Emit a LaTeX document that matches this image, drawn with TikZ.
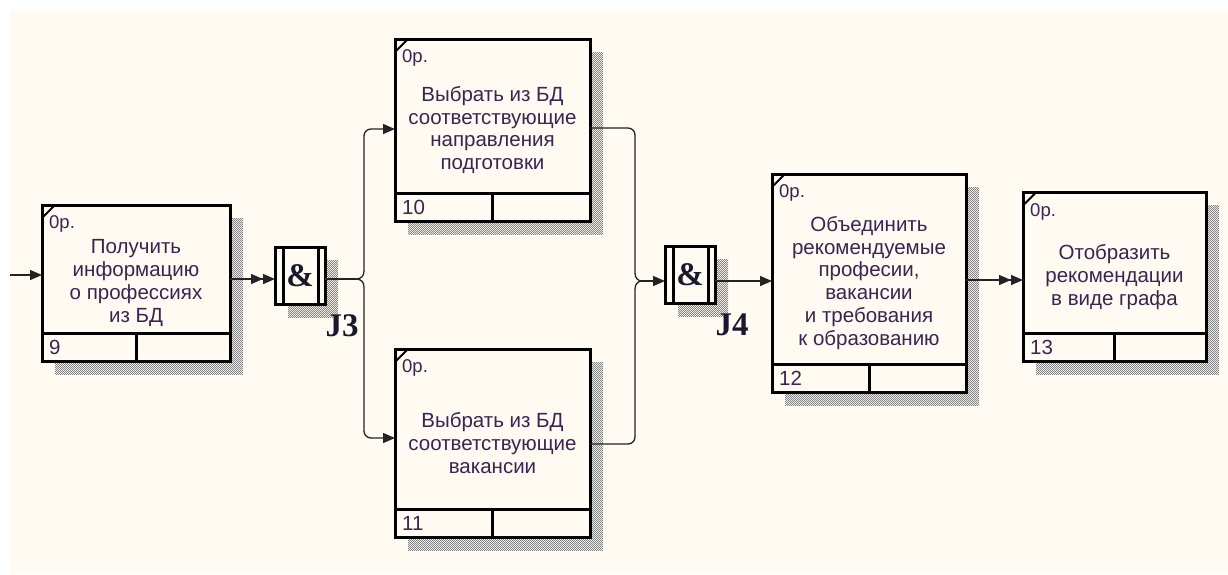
\documentclass[tikz,border=0pt]{standalone}
\usepackage{fontspec}
\setmainfont{Liberation Sans}
\newfontfamily\jfont{Liberation Serif}
\usetikzlibrary{arrows.meta,patterns.meta,calc}

\definecolor{paper}{RGB}{255,250,242}
\definecolor{ink}{RGB}{58,36,80}
\definecolor{wire}{RGB}{35,35,35}
\definecolor{jink}{RGB}{25,25,45}

\pgfdeclarelayer{back}
\pgfdeclarelayer{shade}
\pgfsetlayers{back,shade,main}

% fine checkerboard used for drop shadows
\tikzdeclarepattern{
  name=chk,
  type=uncolored,
  bounding box={(0pt,0pt) and (2.4pt,2.4pt)},
  tile size={(2.4pt,2.4pt)},
  code={
    \pgfpathrectangle{\pgfpointorigin}{\pgfpoint{1.2pt}{1.2pt}}
    \pgfpathrectangle{\pgfpoint{1.2pt}{1.2pt}}{\pgfpoint{1.2pt}{1.2pt}}
    \pgfusepath{fill}
  }
}

\tikzset{
  uob/.style={draw, line width=3pt, fill=paper, inner sep=0pt, outer sep=0pt,
    align=center, text=ink, font=\fontsize{20.5}{22.8}\selectfont},
  jbox/.style={draw, line width=3pt, fill=paper, minimum width=50pt,
    minimum height=57pt, inner sep=0pt, outer sep=0pt, text=jink,
    font=\jfont\bfseries\fontsize{33}{33}\selectfont},
  jlabel/.style={text=jink, font=\jfont\bfseries\fontsize{33}{33}\selectfont},
  tag/.style={anchor=west, inner sep=0pt, text=ink, font=\fontsize{18.5}{18.5}\selectfont},
  num/.style={anchor=west, inner sep=0pt, text=ink, font=\fontsize{20.5}{20.5}\selectfont},
  shadowfill/.style={pattern=chk, pattern color=black!48},
  conn/.style={line width=1.3pt, draw=wire},
  tip/.style={-{Triangle[length=12pt,width=10pt]}},
  tips/.style={-{Triangle[length=12pt,width=10pt]Triangle[length=12pt,width=10pt]}},
}

% corner mark, reference row, labels and shadow of an activity box
\newcommand\unitparts[2]{%
  \draw[line width=2pt] ($(#1.north west)+(0,13)$) -- ($(#1.north west)+(13,0)$);
  \draw[line width=3pt] ($(#1.south west)+(0,-28)$) -- ($(#1.south east)+(0,-28)$);
  \draw[line width=3pt] ($(#1.south)+(0,-28)$) -- (#1.south);
  \node[tag] (#1-tag) at ($(#1.north west)+(7,19)$) {0р.};
  \node[num] (#1-num) at ($(#1.south west)+(7,-14)$) {#2};
  \begin{pgfonlayer}{shade}
    \fill[shadowfill] ($(#1.north west)+(13,13)$) rectangle ($(#1.south east)+(13,13)$);
  \end{pgfonlayer}
}

% junction box with the two inner bars and its shadow
\newcommand\junctionparts[1]{%
  \draw[line width=3pt] ([xshift=8pt]#1.north west) -- ([xshift=8pt]#1.south west);
  \draw[line width=3pt] ([xshift=-7pt]#1.north east) -- ([xshift=-7pt]#1.south east);
  \begin{pgfonlayer}{shade}
    \fill[shadowfill] ($(#1.north west)+(13,13)$) rectangle ($(#1.south east)+(13,13)$);
  \end{pgfonlayer}
}

\begin{document}
\begin{tikzpicture}[x=1pt,y=-1pt]
\useasboundingbox (0,0) rectangle (1228,574);
\begin{pgfonlayer}{back}
  \fill[white] (0,0) rectangle (1228,574);
  \fill[paper] (10,11) rectangle (1228,574);
\end{pgfonlayer}

% activity boxes
\node[uob, minimum width=188pt, minimum height=156pt] (b9) at (136,283)
  {Получить\\информацию\\о профессиях\\из БД};
\node[uob, minimum width=195pt, minimum height=182pt] (b10) at (492.5,130)
  {Выбрать из БД\\соответствующие\\направления\\подготовки};
\node[uob, minimum width=195pt, minimum height=188pt] (b11) at (492.5,443)
  {Выбрать из БД\\соответствующие\\вакансии};
\node[uob, minimum width=194pt, minimum height=218pt] (b12) at (869,283)
  {Объединить\\рекомендуемые\\професии,\\вакансии\\и требования\\к образованию};
\node[uob, minimum width=183pt, minimum height=169pt] (b13) at (1114.5,277)
  {Отобразить\\рекомендации\\в виде графа};

\unitparts{b9}{9}
\unitparts{b10}{10}
\unitparts{b11}{11}
\unitparts{b12}{12}
\unitparts{b13}{13}

% junctions
\node[jbox] (j3) at (300,275.5) {\&};
\node[jbox] (j4) at (690,275) {\&};
\junctionparts{j3}
\junctionparts{j4}
\node[jlabel] (j3-name) at (342,326) {J3};
\node[jlabel] (j4-name) at (732,325) {J4};

% levels and bend points of the links
\coordinate (src) at (10,275);
\coordinate (ya) at (0,279);
\coordinate (y10) at (0,129);
\coordinate (y11) at (0,438);
\coordinate (y10o) at (0,128);
\coordinate (y11o) at (0,444);
\coordinate (y4) at (0,281);
\coordinate (y5) at (0,280);
\coordinate (f3) at (356,279);
\coordinate (f3u) at (364,271);
\coordinate (f3d) at (364,287);
\coordinate (f3ut) at (364,129);
\coordinate (f3db) at (364,438);
\coordinate (m4) at (642,281);
\coordinate (m4u) at (635,273);
\coordinate (m4d) at (635,289);
\coordinate (m4ut) at (635,128);
\coordinate (m4db) at (635,444);

% links
\draw[conn, tip] (src) -- (b9.west |- src);
\draw[conn, tips] (b9.east |- ya) -- (j3.west |- ya);
\draw[conn] (j3.east |- ya) -- (f3);
\draw[conn] (f3) .. controls (361,279) and (364,276) .. (f3u);
\draw[conn] (f3) .. controls (361,279) and (364,282) .. (f3d);
\draw[conn, tip, rounded corners=7pt] (f3u) -- (f3ut) -- (b10.west |- y10);
\draw[conn, tip, rounded corners=7pt] (f3d) -- (f3db) -- (b11.west |- y11);

\draw[conn, rounded corners=7pt] (b10.east |- y10o) -- (m4ut) -- (m4u);
\draw[conn, rounded corners=7pt] (b11.east |- y11o) -- (m4db) -- (m4d);
\draw[conn] (m4u) .. controls (635,278) and (638,281) .. (m4);
\draw[conn] (m4d) .. controls (635,284) and (638,281) .. (m4);
\draw[conn, tip] (m4) -- (j4.west |- y4);
\draw[conn, tip] (j4.east |- y4) -- (b12.west |- y4);
\draw[conn, tips] (b12.east |- y5) -- (b13.west |- y5);
\end{tikzpicture}
\end{document}
